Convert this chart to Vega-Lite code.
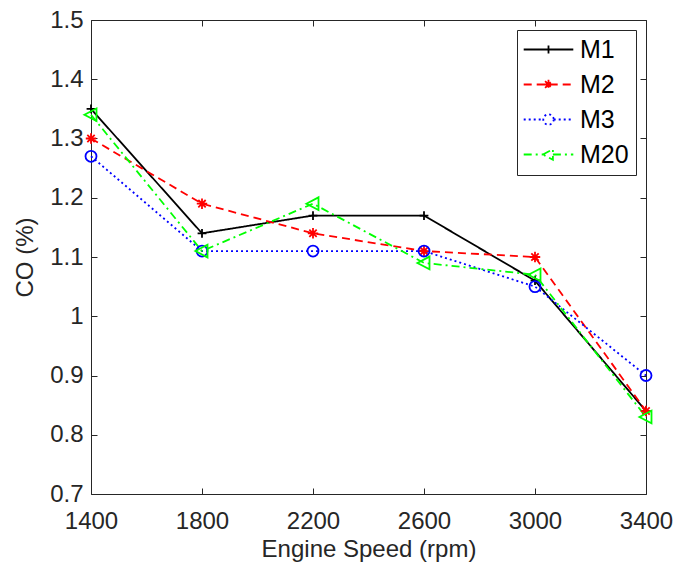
{
  "$schema": "https://vega.github.io/schema/vega-lite/v6.json",
  "width": 555,
  "height": 474,
  "autosize": {"type": "none"},
  "padding": {"left": 91, "top": 20, "right": 27, "bottom": 70},
  "background": "white",
  "config": {
    "font": "Liberation Sans",
    "view": {"stroke": "#262626", "strokeWidth": 1},
    "axis": {
      "domain": false,
      "tickColor": "#262626",
      "labelColor": "#262626",
      "titleColor": "#262626",
      "labelFont": "Liberation Sans",
      "titleFont": "Liberation Sans",
      "labelFontSize": 24,
      "titleFontSize": 24,
      "titleFontWeight": "normal",
      "tickSize": 6,
      "offset": -6,
      "labelFlush": false,
      "labelOverlap": false,
      "grid": false,
      "tickWidth": 1
    }
  },
  "data": {
    "values": [
      {"series": "M1", "rpm": 1400, "co": 1.35},
      {"series": "M1", "rpm": 1800, "co": 1.14},
      {"series": "M1", "rpm": 2200, "co": 1.17},
      {"series": "M1", "rpm": 2600, "co": 1.17},
      {"series": "M1", "rpm": 3000, "co": 1.06},
      {"series": "M1", "rpm": 3400, "co": 0.84},
      {"series": "M2", "rpm": 1400, "co": 1.30},
      {"series": "M2", "rpm": 1800, "co": 1.19},
      {"series": "M2", "rpm": 2200, "co": 1.14},
      {"series": "M2", "rpm": 2600, "co": 1.11},
      {"series": "M2", "rpm": 3000, "co": 1.10},
      {"series": "M2", "rpm": 3400, "co": 0.84},
      {"series": "M3", "rpm": 1400, "co": 1.27},
      {"series": "M3", "rpm": 1800, "co": 1.11},
      {"series": "M3", "rpm": 2200, "co": 1.11},
      {"series": "M3", "rpm": 2600, "co": 1.11},
      {"series": "M3", "rpm": 3000, "co": 1.05},
      {"series": "M3", "rpm": 3400, "co": 0.90},
      {"series": "M20", "rpm": 1400, "co": 1.34},
      {"series": "M20", "rpm": 1800, "co": 1.11},
      {"series": "M20", "rpm": 2200, "co": 1.19},
      {"series": "M20", "rpm": 2600, "co": 1.09},
      {"series": "M20", "rpm": 3000, "co": 1.07},
      {"series": "M20", "rpm": 3400, "co": 0.83}
    ]
  },
  "layer": [
    {
      "mark": {"type": "line", "strokeWidth": 1.8, "clip": false},
      "encoding": {
        "x": {
          "field": "rpm", "type": "quantitative",
          "scale": {"domain": [1400, 3400], "nice": false, "zero": false},
          "axis": {"values": [1400, 1800, 2200, 2600, 3000, 3400], "format": "d", "title": "Engine Speed (rpm)", "labelPadding": 15, "titlePadding": 4}
        },
        "y": {
          "field": "co", "type": "quantitative",
          "scale": {"domain": [0.7, 1.5], "nice": false, "zero": false},
          "axis": {"values": [0.7, 0.8, 0.9, 1.0, 1.1, 1.2, 1.3, 1.4, 1.5], "format": "~g", "title": "CO (%)", "labelPadding": 8, "titlePadding": 12}
        },
        "color": {
          "field": "series", "type": "nominal",
          "scale": {"domain": ["M1", "M2", "M3", "M20"], "range": ["#000000", "#ff0000", "#0000ff", "#00ff00"]},
          "legend": null
        },
        "strokeDash": {
          "field": "series", "type": "nominal",
          "scale": {"domain": ["M1", "M2", "M3", "M20"], "range": [[1, 0], [8, 5], [2, 3], [8, 4, 2, 4]]},
          "legend": null
        }
      }
    },
    {
      "mark": {"type": "point", "filled": false, "strokeWidth": 1.8, "size": 121, "opacity": 1, "clip": false},
      "encoding": {
        "x": {
          "field": "rpm", "type": "quantitative",
          "axis": {"orient": "top", "values": [1400, 1800, 2200, 2600, 3000, 3400], "labels": false, "title": null}
        },
        "y": {
          "field": "co", "type": "quantitative",
          "axis": {"orient": "right", "values": [0.7, 0.8, 0.9, 1.0, 1.1, 1.2, 1.3, 1.4, 1.5], "labels": false, "title": null}
        },
        "color": {
          "field": "series", "type": "nominal",
          "scale": {"domain": ["M1", "M2", "M3", "M20"], "range": ["#000000", "#ff0000", "#0000ff", "#00ff00"]},
          "legend": null
        },
        "shape": {
          "field": "series", "type": "nominal",
          "scale": {"domain": ["M1", "M2", "M3", "M20"], "range": ["M-0.8,0L0.8,0M0,-0.8L0,0.8", "M-0.95,0L0.95,0M0,-0.95L0,0.95M-0.67,-0.67L0.67,0.67M-0.67,0.67L0.67,-0.67", "circle", "M-1.2,0L1,-1.15L1,1.15Z"]},
          "legend": null
        }
      }
    },
    {
      "transform": [{"filter": "false"}],
      "mark": {"type": "point", "filled": false, "strokeWidth": 1.8, "size": 64, "opacity": 1, "clip": false},
      "encoding": {
        "x": {"field": "rpm", "type": "quantitative", "axis": null},
        "y": {"field": "co", "type": "quantitative", "axis": null},
        "color": {
          "field": "series", "type": "nominal",
          "scale": {"domain": ["M1", "M2", "M3", "M20"], "range": ["#000000", "#ff0000", "#0000ff", "#00ff00"]},
          "legend": {
            "title": null, "orient": "none", "legendX": 426, "legendY": 10,
            "padding": 7, "strokeColor": "#262626", "fillColor": "white",
            "labelFontSize": 25, "labelFont": "Liberation Sans", "labelColor": "black",
            "symbolSize": 64, "symbolOffset": 12, "labelOffset": 19, "rowPadding": 9,
            "symbolStrokeWidth": 1.8
          }
        },
        "strokeDash": {
          "field": "series", "type": "nominal",
          "scale": {"domain": ["M1", "M2", "M3", "M20"], "range": [[1, 0], [8, 5], [2, 3], [8, 4, 2, 4]]},
          "legend": {
            "title": null, "orient": "none", "legendX": 426, "legendY": 10,
            "padding": 7, "strokeColor": "#262626", "fillColor": "white",
            "labelFontSize": 25, "labelFont": "Liberation Sans", "labelColor": "black",
            "symbolSize": 64, "symbolOffset": 12, "labelOffset": 19, "rowPadding": 9,
            "symbolStrokeWidth": 1.8
          }
        },
        "shape": {
          "field": "series", "type": "nominal",
          "scale": {"domain": ["M1", "M2", "M3", "M20"], "range": [
            "M-6.2,0L6.2,0M0,-1L0,1",
            "M-6.2,0L6.2,0M-1.2,0L1.2,0M0,-1.2L0,1.2M-0.85,-0.85L0.85,0.85M-0.85,0.85L0.85,-0.85",
            "M-6.2,0L-1.3,0M1.3,0L6.2,0M1.3,0A1.3,1.3,0,1,1,-1.3,0A1.3,1.3,0,1,1,1.3,0",
            "M-6.2,0L-1.4,0M1.1,0L6.2,0M-1.4,0L1.1,-1.3L1.1,1.3Z"
          ]},
          "legend": {
            "title": null, "orient": "none", "legendX": 426, "legendY": 10,
            "padding": 7, "strokeColor": "#262626", "fillColor": "white",
            "labelFontSize": 25, "labelFont": "Liberation Sans", "labelColor": "black",
            "symbolSize": 64, "symbolOffset": 12, "labelOffset": 19, "rowPadding": 9,
            "symbolStrokeWidth": 1.8
          }
        }
      }
    }
  ],
  "resolve": {
    "axis": {"x": "independent", "y": "independent"},
    "scale": {"color": "independent", "strokeDash": "independent", "shape": "independent"}
  }
}
